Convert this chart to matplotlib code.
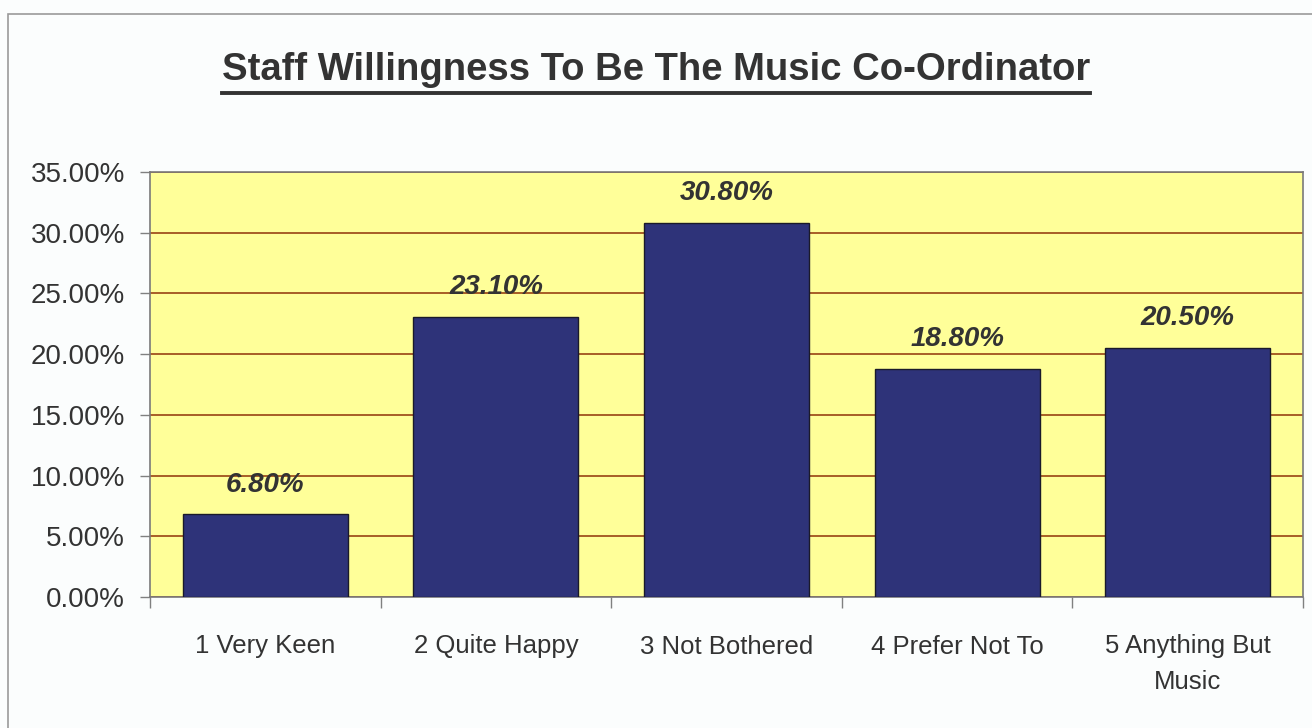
import matplotlib
matplotlib.use("Agg")
import matplotlib.pyplot as plt
from matplotlib.ticker import FuncFormatter, FixedLocator
from matplotlib.lines import Line2D
from matplotlib.patches import Rectangle

categories = ["1 Very Keen", "2 Quite Happy", "3 Not Bothered", "4 Prefer Not To", "5 Anything But\nMusic"]
values = [6.8, 23.1, 30.8, 18.8, 20.5]
y_ticks = [0, 5, 10, 15, 20, 25, 30, 35]
title = "Staff Willingness To Be The Music Co-Ordinator"

narrow = ["Liberation Sans Narrow", "Liberation Sans", "DejaVu Sans"]
regular = ["Liberation Sans", "DejaVu Sans"]
text_color = "#333333"

fig = plt.figure(figsize=(13.12, 7.28), dpi=100)
fig.patch.set_facecolor("#fbfdfd")

# outer chart frame
fig.add_artist(Rectangle((8 / 1312, -0.01), 1.02, 1 - 14 / 728 + 0.01,
                         transform=fig.transFigure, fill=False,
                         edgecolor="#9a9a9a", linewidth=1.2))

ax = fig.add_axes([150 / 1312, 1 - 597 / 728, (1303 - 150) / 1312, (597 - 172) / 728])
ax.set_facecolor("#ffff99")

x = list(range(len(categories)))
ax.bar(x, values, width=0.715, color="#2e3379", edgecolor="#1a1a2a",
       linewidth=1.0, zorder=3)

for xi, v in zip(x, values):
    ax.annotate(f"{v:.2f}%", (xi, v), xytext=(0, 12), textcoords="offset points",
                ha="center", va="bottom", fontsize=20, fontweight="bold",
                fontstyle="italic", color=text_color, family=regular, zorder=4)

ax.set_xlim(-0.5, len(categories) - 0.5)
ax.set_ylim(0, 35)
ax.set_yticks(y_ticks)
ax.yaxis.set_major_formatter(FuncFormatter(lambda v, p: f"{v:.2f}%"))
ax.grid(axis="y", color="#a0521e", linewidth=1.3, zorder=1)
ax.set_axisbelow(True)

ax.set_xticks(x)
ax.set_xticklabels(categories, family=narrow, fontsize=18.5, color=text_color,
                   linespacing=1.6)
ax.tick_params(axis="x", length=0, pad=27)
ax.xaxis.set_minor_locator(FixedLocator([i + 0.5 for i in range(-1, len(categories))]))
ax.tick_params(axis="x", which="minor", length=8, color="#808080", width=1)
ax.tick_params(axis="y", length=7, color="#808080", width=1, pad=11)
for lab in ax.get_yticklabels():
    lab.set_family(regular)
    lab.set_fontsize(20)
    lab.set_color(text_color)

for side in ["top", "right", "left", "bottom"]:
    ax.spines[side].set_color("#7a7a7a")
    ax.spines[side].set_linewidth(1.2)

# underlined title
t = fig.text(0.5, 1 - 70 / 728, title, ha="center", va="center",
             fontsize=27.5, fontweight="bold", family=narrow, color="#333333")
fig.canvas.draw()
bb = t.get_window_extent(renderer=fig.canvas.get_renderer())
W, H = fig.bbox.width, fig.bbox.height
uy = 1 - 93 / 728
fig.add_artist(Line2D([bb.x0 / W, bb.x1 / W], [uy, uy], transform=fig.transFigure,
                      color="#333333", linewidth=2.8))

fig.savefig("out.png", dpi=100, facecolor=fig.get_facecolor())
